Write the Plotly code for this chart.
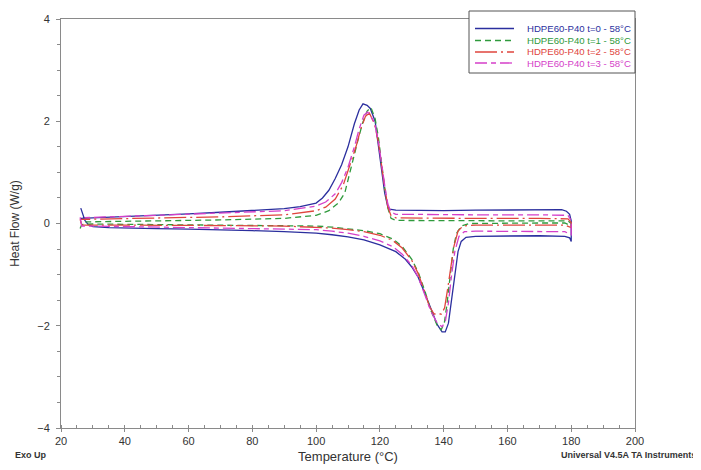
import plotly.graph_objects as go

# ---- data (temperature °C, heat flow W/g) ----
# t=0 : heating then cooling
t0_temp = [26.2, 26.8, 27.5, 28.5, 30, 35, 40, 50, 60, 70, 80, 90, 100, 105, 110, 115, 120, 125, 128, 130,
           132, 134, 136, 138, 139.5, 140.5, 141.5, 142.5, 143.5, 144.5, 145.5, 147, 150, 160, 170, 178, 179.5, 180,
           180, 179.5, 178.5, 177, 170, 160, 150, 140, 130, 125, 123, 122.5, 121.5, 120.5, 119.5, 118.5, 117,
           116, 114.7, 113.5, 112, 110, 108, 106, 104, 102, 100, 95, 90, 80, 70, 60, 50, 40, 30, 26.2]
t0_flow = [0.30, 0.18, 0.06, -0.02, -0.06, -0.08, -0.09, -0.10, -0.11, -0.12, -0.14, -0.16, -0.19, -0.22, -0.26, -0.32,
           -0.42, -0.55, -0.70, -0.85, -1.05, -1.35, -1.68, -1.98, -2.12, -2.12, -1.95, -1.50, -0.95, -0.55, -0.35,
           -0.27, -0.25, -0.24, -0.24, -0.25, -0.28, -0.35,
           0.05, 0.18, 0.24, 0.27, 0.27, 0.26, 0.26, 0.25, 0.25, 0.26, 0.28, 0.32, 0.60, 1.10, 1.60, 2.00, 2.25,
           2.31, 2.34, 2.22, 1.95, 1.50, 1.15, 0.88, 0.65, 0.50, 0.40, 0.33, 0.29, 0.25, 0.22, 0.19, 0.16, 0.13,
           0.11, 0.10]

# t=1
t1_temp = [26, 26.5, 30, 50, 70, 90, 100, 105, 110, 115, 120, 124, 127, 130, 132, 134, 136, 138, 139.2, 140.2,
           141, 142, 143, 144, 145.5, 148, 160, 170, 178, 180,
           180, 179, 170, 150, 130, 125, 123.5, 122.5, 121.5, 120.5, 119.5, 118.5, 117.2, 116, 114.5, 113, 111,
           109, 107, 104, 100, 90, 70, 50, 30, 26]
t1_flow = [-0.10, -0.02, -0.01, -0.02, -0.03, -0.04, -0.05, -0.07, -0.10, -0.14, -0.20, -0.30, -0.45, -0.70, -0.95,
           -1.30, -1.70, -2.00, -2.08, -1.95, -1.60, -1.00, -0.50, -0.20, -0.05, 0.00, 0.01, 0.01, 0.01, -0.05,
           0.00, 0.05, 0.05, 0.05, 0.05, 0.06, 0.10, 0.30, 0.70, 1.20, 1.70, 2.05, 2.27, 2.20, 1.95, 1.60, 1.10,
           0.60, 0.40, 0.25, 0.16, 0.10, 0.07, 0.05, 0.04, 0.03]

# t=2
t2_temp = [26, 26.5, 30, 50, 70, 90, 100, 105, 110, 115, 120, 124, 127, 130, 132, 134, 135.5, 137, 139.3, 140.3,
           141.2, 142.2, 143.2, 144.5, 146, 150, 160, 170, 178, 180,
           180, 179, 170, 150, 130, 125, 123.5, 122.5, 121.5, 120.5, 119.5, 118.3, 116.7, 115.5, 114, 112.5, 110.5,
           108.5, 106, 103, 100, 90, 70, 50, 30, 26]
t2_flow = [0.08, -0.03, -0.03, -0.03, -0.04, -0.05, -0.07, -0.09, -0.12, -0.16, -0.23, -0.33, -0.48, -0.72, -0.98,
           -1.32, -1.62, -1.77, -1.77, -1.65, -1.30, -0.85, -0.45, -0.15, -0.05, -0.03, -0.03, -0.03, -0.03, -0.08,
           0.02, 0.09, 0.10, 0.10, 0.10, 0.11, 0.15, 0.32, 0.70, 1.15, 1.60, 1.95, 2.16, 2.10, 1.85, 1.50, 1.10,
           0.75, 0.48, 0.32, 0.25, 0.17, 0.13, 0.11, 0.09, 0.08]

# t=3
t3_temp = [26, 26.5, 30, 50, 70, 90, 100, 105, 110, 115, 120, 124, 127, 130, 132, 134, 136, 138, 139.5, 140.5,
           141.5, 142.5, 143.5, 144.8, 146.5, 150, 160, 170, 178, 180,
           180, 179, 170, 150, 130, 125, 123.5, 122.5, 121.5, 120.5, 119.5, 118.3, 116.2, 115, 113.5, 112, 110,
           108, 106, 103, 100, 90, 70, 50, 30, 26]
t3_flow = [0.12, -0.05, -0.05, -0.07, -0.08, -0.10, -0.12, -0.15, -0.19, -0.25, -0.34, -0.45, -0.60, -0.82, -1.05,
           -1.38, -1.72, -1.95, -2.02, -1.92, -1.55, -1.00, -0.55, -0.25, -0.16, -0.15, -0.15, -0.15, -0.16, -0.22,
           0.06, 0.16, 0.17, 0.17, 0.17, 0.18, 0.22, 0.38, 0.75, 1.20, 1.62, 1.98, 2.18, 2.12, 1.85, 1.50, 1.10,
           0.80, 0.58, 0.42, 0.34, 0.25, 0.20, 0.16, 0.12, 0.11]

series_names = ["HDPE60-P40 t=0 - 58°C", "HDPE60-P40 t=1 - 58°C",
                "HDPE60-P40 t=2 - 58°C", "HDPE60-P40 t=3 - 58°C"]
series_temp = [t0_temp, t1_temp, t2_temp, t3_temp]
series_flow = [t0_flow, t1_flow, t2_flow, t3_flow]

x_ticks = [20, 40, 60, 80, 100, 120, 140, 160, 180, 200]
y_ticks = [-4, -2, 0, 2, 4]

colors = ["#2b2f9e", "#2f9a3c", "#e0453e", "#d53fc9"]
dashes = ["solid", "6px,4px", "22px,4px,2px,4px", "12px,4px,5px,4px"]

fig = go.Figure()
for name, xs, ys, c, d in zip(series_names, series_temp, series_flow, colors, dashes):
    fig.add_trace(go.Scatter(
        x=xs, y=ys, mode="lines", name=name, showlegend=False,
        line=dict(color=c, width=1.3, dash=d),
    ))

# ---- legend drawn as a boxed key in paper coordinates (layout decoration) ----
# positions given in screenshot pixels; the page body adds an 8px offset
PLOT_L, PLOT_R, PLOT_T, PLOT_B = 61, 635, 19, 428
def px_x(p):
    return (p - PLOT_L) / (PLOT_R - PLOT_L)
def px_y(p):
    return (PLOT_B - p) / (PLOT_B - PLOT_T)

shapes = [dict(type="rect", xref="paper", yref="paper",
               x0=px_x(469), x1=px_x(635), y0=px_y(73), y1=px_y(11),
               line=dict(color="#555", width=1), fillcolor="white", layer="above")]
annotations = []
legend_rows = [28.5, 40.5, 52.0, 63.0]
for name, c, d, row in zip(series_names, colors, dashes, legend_rows):
    shapes.append(dict(type="line", xref="paper", yref="paper",
                       x0=px_x(475), x1=px_x(514), y0=px_y(row), y1=px_y(row),
                       line=dict(color=c, width=1.3, dash=d), layer="above"))
    annotations.append(dict(text=name, xref="paper", yref="paper", x=px_x(525), y=px_y(row),
                            xanchor="left", yanchor="middle", showarrow=False,
                            font=dict(family="Liberation Sans, Arial", size=9.6, color=c)))

annotations += [
    dict(text="<b>Exo Up</b>", xref="paper", yref="paper", x=px_x(13), y=px_y(455),
         xanchor="left", yanchor="middle", showarrow=False,
         font=dict(family="Liberation Sans Narrow, Liberation Sans", size=9, color="#333")),
    dict(text="<b>Universal V4.5A TA Instruments</b>", xref="paper", yref="paper", x=px_x(698), y=px_y(455),
         xanchor="right", yanchor="middle", showarrow=False,
         font=dict(family="Liberation Sans Narrow, Liberation Sans", size=9, color="#333")),
]

axis_common = dict(
    showgrid=False, zeroline=False, showline=True, linecolor="#8a8a8a", linewidth=1,
    mirror=True, ticks="outside", tickcolor="#8a8a8a", automargin=False,
    tickfont=dict(family="Liberation Sans, Arial", size=11, color="#333"),
)

fig.update_layout(
    width=693, height=462,
    margin=dict(l=53, r=66, t=11, b=42, autoexpand=False),
    paper_bgcolor="white", plot_bgcolor="white",
    font=dict(family="Liberation Sans, Arial", color="#333"),
    showlegend=False,
    xaxis=dict(range=[20, 200], tickvals=x_ticks, ticklen=3, **axis_common,
               minor=dict(dtick=5, ticks="inside", ticklen=3, tickcolor="#8a8a8a"),
               title=dict(text="Temperature (°C)", font=dict(size=13, color="#333"), standoff=5)),
    yaxis=dict(range=[-4, 4], tickvals=y_ticks, ticklen=4, ticklabelstandoff=4, **axis_common,
               minor=dict(dtick=0.5, ticks="outside", ticklen=3, tickcolor="#8a8a8a"),
               title=dict(text="Heat Flow (W/g)", font=dict(size=12, color="#333"), standoff=16)),
    shapes=shapes,
    annotations=annotations,
)

fig.write_html("out.html")
